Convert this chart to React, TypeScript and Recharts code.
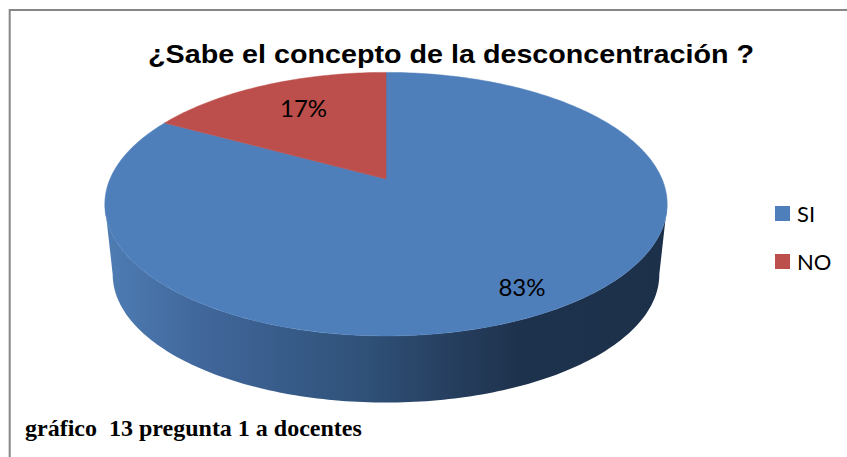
import React from 'react';
import { PieChart, Pie, Cell, Legend } from 'recharts';

const categories = ['SI', 'NO'];
const shares = [83, 17];
const sliceColors = ['#4F7FBB', '#BC4E4B'];

const chartTitle = '¿Sabe el concepto de la desconcentración ?';
const chartCaption = 'gráfico  13 pregunta 1 a docentes';

const data = categories.map((name, i) => ({ name, value: shares[i] }));

// fake 3D: the flat pie angles get pushed through a perspective projection
const TILT = 0.46;
const PERSPECTIVE = 0.191;
const WALL_SCALE = 0.972;
const WALL_DROP = 71;
const RAD = Math.PI / 180;
// silhouette of the projected disc, the wall only shows between these
const FRONT_START = -11;
const FRONT_END = -169;

const project = (cx: number, cy: number, radius: number, angle: number, r = 1) => {
  const u = Math.cos(angle * RAD) * r;
  const v = Math.sin(angle * RAD) * r;
  const d = 1 + PERSPECTIVE * v;
  return [cx + (radius * u) / d, cy - (radius * TILT * v) / d];
};

const arcPoints = (cx: number, cy: number, radius: number, from: number, to: number) => {
  const steps = Math.max(2, Math.ceil(Math.abs(to - from)));
  const pts: number[][] = [];
  for (let i = 0; i <= steps; i++) {
    pts.push(project(cx, cy, radius, from + ((to - from) * i) / steps));
  }
  return pts;
};

const toPath = (pts: number[][]) =>
  'M' + pts.map((p) => `${p[0].toFixed(2)},${p[1].toFixed(2)}`).join('L') + 'Z';

const TopFace = (props: any) => {
  const { cx, cy, outerRadius, startAngle, endAngle, fill } = props;
  const pts = [[cx, cy], ...arcPoints(cx, cy, outerRadius, startAngle, endAngle)];
  return <path d={toPath(pts)} fill={fill} stroke={fill} strokeWidth={0.5} />;
};

const WallFace = (props: any) => {
  const { cx, cy, outerRadius, startAngle, endAngle } = props;
  const from = Math.min(startAngle, FRONT_START);
  const to = Math.max(endAngle, FRONT_END);
  if (from <= to) return null;
  const top = arcPoints(cx, cy, outerRadius, from, to);
  const bottom = arcPoints(cx, cy + WALL_DROP, outerRadius * WALL_SCALE, to, from);
  return <path d={toPath([...top, ...bottom])} fill="url(#wallSI)" />;
};

const labelSpots = [0.84, 0.72];
const labelNudgeX = [-1, 8];
const labelNudgeY = [1, -1];

const renderLabel = (props: any) => {
  const { cx, cy, outerRadius, midAngle, percent, index } = props;
  const [x, y] = project(cx, cy, outerRadius, midAngle, labelSpots[index]);
  return (
    <text
      x={x + labelNudgeX[index]}
      y={y + labelNudgeY[index]}
      textAnchor="middle"
      dominantBaseline="central"
      fontFamily="Lato"
      fontSize={24}
      fill="#000"
    >
      {`${Math.round(percent * 100)}%`}
    </text>
  );
};

const LegendList = () => (
  <div>
    {categories.map((name, i) => (
      <div key={name} style={{ display: 'flex', alignItems: 'center', height: 48, fontFamily: 'Lato', fontSize: 22 }}>
        <span style={{ width: 15, height: 15, background: sliceColors[i], marginRight: 7 }} />
        {name}
      </div>
    ))}
  </div>
);

export default function App() {
  return (
    <div style={{ position: 'absolute', left: 0, top: 0, width: 847, height: 457, background: '#fff', overflow: 'hidden' }}>
      <PieChart width={847} height={457} margin={{ top: 0, right: 0, bottom: 0, left: 0 }}>
        <defs>
          <linearGradient id="wallSI" gradientUnits="userSpaceOnUse" x1={104} y1={0} x2={668} y2={0}>
            <stop offset="0" stopColor="#4E7DB4" />
            <stop offset="0.18" stopColor="#40669A" />
            <stop offset="0.45" stopColor="#30527A" />
            <stop offset="0.62" stopColor="#263E5E" />
            <stop offset="0.74" stopColor="#1D324C" />
            <stop offset="1" stopColor="#1C304A" />
          </linearGradient>
        </defs>
        <rect x={9.7} y={10} width={900} height={500} fill="#fff" stroke="#868686" strokeWidth={2} />
        <text
          x={148}
          y={63}
          fontFamily="Liberation Sans"
          fontWeight="bold"
          fontSize={26}
          textLength={606}
          lengthAdjust="spacingAndGlyphs"
          fill="#000"
        >
          {chartTitle}
        </text>
        <Pie
          data={data}
          dataKey="value"
          cx={386}
          cy={179}
          outerRadius={276}
          startAngle={90}
          endAngle={-270}
          legendType="none"
          stroke="none"
          shape={WallFace}
          isAnimationActive={false}
        />
        <Pie
          data={data}
          dataKey="value"
          nameKey="name"
          cx={386}
          cy={179}
          outerRadius={276}
          startAngle={90}
          endAngle={-270}
          stroke="none"
          shape={TopFace}
          label={renderLabel}
          labelLine={false}
          isAnimationActive={false}
        >
          {categories.map((name, i) => (
            <Cell key={name} fill={sliceColors[i]} />
          ))}
        </Pie>
        <Legend
          layout="vertical"
          align="right"
          verticalAlign="top"
          content={LegendList}
          wrapperStyle={{ left: 775, top: 189, width: 70 }}
        />
        <text
          x={25}
          y={436}
          fontFamily="Liberation Serif"
          fontWeight="bold"
          fontSize={24}
          fill="#000"
          style={{ whiteSpace: 'pre' }}
        >
          {chartCaption}
        </text>
      </PieChart>
    </div>
  );
}
